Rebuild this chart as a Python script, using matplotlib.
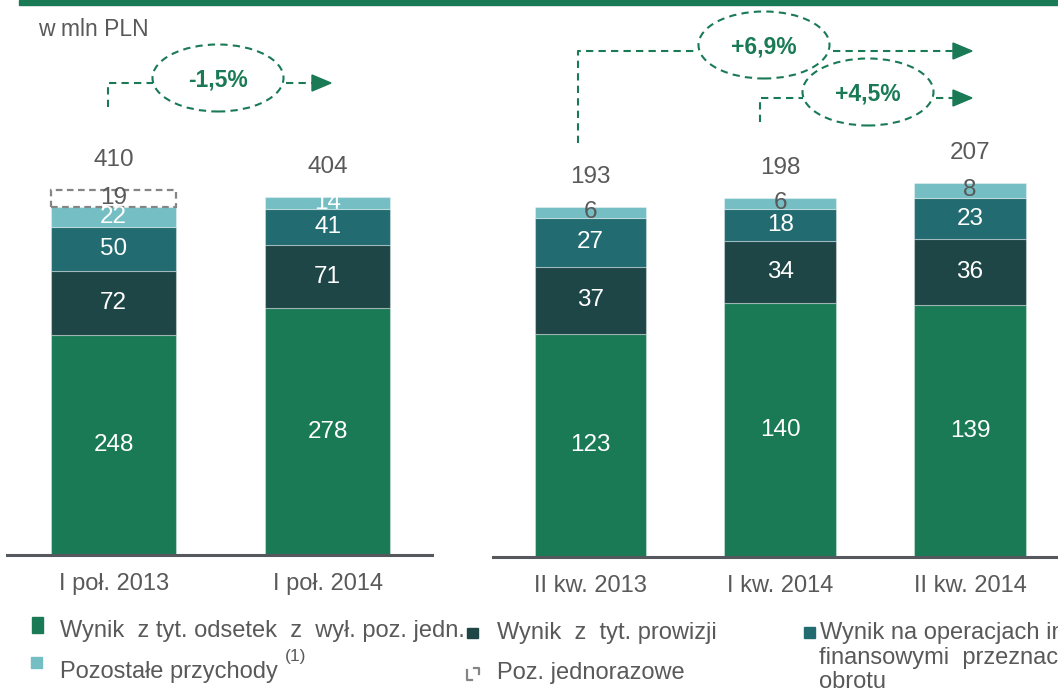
import matplotlib.pyplot as plt
from matplotlib.patches import Ellipse, Rectangle, Polygon
from matplotlib.lines import Line2D

plt.rcParams['font.family'] = ['Liberation Sans', 'DejaVu Sans']

# --- data (mln PLN) ---
half_labels = ['I poł. 2013', 'I poł. 2014']
half_odsetki = [248, 278]
half_prowizje = [72, 71]
half_instr = [50, 41]
half_pozostale = [22, 14]
half_jednorazowe = [19, 0]
half_totals = [410, 404]

q_labels = ['II kw. 2013', 'I kw. 2014', 'II kw. 2014']
q_odsetki = [123, 140, 139]
q_prowizje = [37, 34, 36]
q_instr = [27, 18, 23]
q_pozostale = [6, 6, 8]
q_totals = [193, 198, 207]

changes = ['-1,5%', '+6,9%', '+4,5%']

GREEN = '#1a7a56'
DARK = '#1f4647'
TEAL = '#226c71'
LIGHT = '#74bec4'
GREY = '#595959'
AXIS = '#55595e'
VAL_FS = 17.5
TXT_FS = 17

W, H = 1058, 696
fig = plt.figure(figsize=(W / 100, H / 100), dpi=100)


def fx(x):
    return x / W


def fy(y):
    return 1 - y / H


def stacked(ax, labels, segments, colors, txtcolors, totals, width):
    x = list(range(len(labels)))
    bottom = [0] * len(labels)
    for vals, c, tc in zip(segments, colors, txtcolors):
        ax.bar(x, vals, width, bottom=bottom, color=c,
               edgecolor=(1, 1, 1, 0.35), linewidth=0.8)
        for i, v in enumerate(vals):
            if v > 0:
                ax.text(i, bottom[i] + v / 2, str(v), ha='center', va='center',
                        fontsize=VAL_FS, color=tc)
        bottom = [b + v for b, v in zip(bottom, vals)]
    ax.set_xticks(x, labels, fontsize=TXT_FS, color=GREY)
    for s in ['top', 'left', 'right']:
        ax.spines[s].set_visible(False)
    ax.spines['bottom'].set_color(AXIS)
    ax.spines['bottom'].set_linewidth(2.2)
    ax.tick_params(axis='x', length=0, pad=13)
    ax.set_yticks([])
    return bottom


# left panel: half-years
ax1 = fig.add_axes([fx(7), fy(555), (432 - 7) / W, (555 - 20) / H])
ax1.set_xlim(-0.498, 1.488)
ax1.set_ylim(0, 535 / 0.887)
top1 = stacked(ax1, half_labels,
               [half_odsetki, half_prowizje, half_instr, half_pozostale],
               [GREEN, DARK, TEAL, LIGHT], ['white'] * 4, half_totals, 0.584)
for i, v in enumerate(half_jednorazowe):
    if v > 0:
        ax1.bar(i, v, 0.584, bottom=top1[i], fill=False, edgecolor='#858585',
                linestyle=(0, (3, 2)), linewidth=1.6)
        ax1.text(i, top1[i] + v / 2 + 1, str(v), ha='center', va='center',
                 fontsize=VAL_FS, color=GREY)
for i, t in enumerate(half_totals):
    ax1.annotate(str(t), (i, top1[i] + half_jednorazowe[i]), xytext=(0, 30),
                 textcoords='offset pixels', ha='center', va='center',
                 fontsize=VAL_FS, color=GREY)

# right panel: quarters
ax2 = fig.add_axes([fx(493), fy(557), (1058 - 493) / W, (557 - 20) / H])
ax2.set_xlim(-0.514, 2.464)
ax2.set_ylim(0, 537 / 1.815)
top2 = stacked(ax2, q_labels, [q_odsetki, q_prowizje, q_instr, q_pozostale],
               [GREEN, DARK, TEAL, LIGHT], ['white', 'white', 'white', GREY],
               q_totals, 0.59)
for i, t in enumerate(q_totals):
    ax2.annotate(str(t), (i, top2[i]), xytext=(0, 30),
                 textcoords='offset pixels', ha='center', va='center',
                 fontsize=VAL_FS, color=GREY)

# top banner and unit
fig.add_artist(Rectangle((fx(19), fy(5)), (W - 19) / W, 5 / H, color=GREEN,
                         transform=fig.transFigure))
fig.text(fx(38), fy(29), 'w mln PLN', fontsize=16.5, color=GREY, va='center')


# growth arrows
def dline(pts, color=GREEN):
    fig.add_artist(Line2D([fx(p[0]) for p in pts], [fy(p[1]) for p in pts],
                          color=color, lw=1.5, dashes=(3.5, 2.5),
                          transform=fig.transFigure))


def growth(text, vx, vy0, hy, ex, ey, ex0, ex1, ax0):
    dline([(vx, vy0), (vx, hy), (ex0, hy)])
    fig.add_artist(Ellipse((fx(ex), fy(ey)), 131 / W, 67 / H, fill=False,
                           edgecolor=GREEN, lw=1.5, linestyle=(0, (3.5, 2.5)),
                           transform=fig.transFigure))
    dline([(ex1, hy), (ax0, hy)])
    fig.add_artist(Polygon([(fx(ax0), fy(hy - 8)), (fx(ax0), fy(hy + 8)),
                            (fx(ax0 + 19), fy(hy))], closed=True, color=GREEN,
                           transform=fig.transFigure))
    fig.text(fx(ex), fy(ey + 2), text, ha='center', va='center', fontsize=16.5,
             fontweight='bold', color=GREEN)


growth(changes[0], 108, 107, 83, 218, 78, 153, 286, 312)
growth(changes[1], 578, 143, 51, 764, 45, 698, 833, 953)
growth(changes[2], 760, 122, 98, 868, 92, 803, 936, 953)

# legend
fig.add_artist(Rectangle((fx(32), fy(633)), 11 / W, 16 / H, color=GREEN,
                         transform=fig.transFigure))
fig.text(fx(60), fy(631), 'Wynik  z tyt. odsetek  z  wył. poz. jedn.',
         fontsize=TXT_FS, color=GREY, va='center')
fig.add_artist(Rectangle((fx(31), fy(668)), 11 / W, 11 / H, color=LIGHT,
                         transform=fig.transFigure))
fig.text(fx(60), fy(672), 'Pozostałe przychody', fontsize=TXT_FS, color=GREY,
         va='center')
fig.text(fx(285), fy(657), '(1)', fontsize=12.5, color=GREY, va='center')

fig.add_artist(Rectangle((fx(467), fy(638)), 11 / W, 10 / H, color=DARK,
                         transform=fig.transFigure))
fig.text(fx(497), fy(633), 'Wynik  z  tyt. prowizji', fontsize=TXT_FS,
         color=GREY, va='center')
fig.add_artist(Line2D([fx(467), fx(467), fx(472)], [fy(670), fy(680), fy(680)],
                      color='#858585', lw=1.6, transform=fig.transFigure))
fig.add_artist(Line2D([fx(474), fx(479), fx(479)], [fy(668), fy(668), fy(674)],
                      color='#858585', lw=1.6, transform=fig.transFigure))
fig.text(fx(497), fy(673), 'Poz. jednorazowe', fontsize=TXT_FS, color=GREY,
         va='center')

fig.add_artist(Rectangle((fx(804), fy(638)), 11 / W, 11 / H, color=TEAL,
                         transform=fig.transFigure))
fig.text(fx(820), fy(633), 'Wynik na operacjach instrumentami',
         fontsize=TXT_FS, color=GREY, va='center')
fig.text(fx(819), fy(658), 'finansowymi  przeznaczonymi do', fontsize=TXT_FS,
         color=GREY, va='center')
fig.text(fx(819), fy(682), 'obrotu', fontsize=TXT_FS, color=GREY, va='center')

fig.savefig('out.png', dpi=100)
